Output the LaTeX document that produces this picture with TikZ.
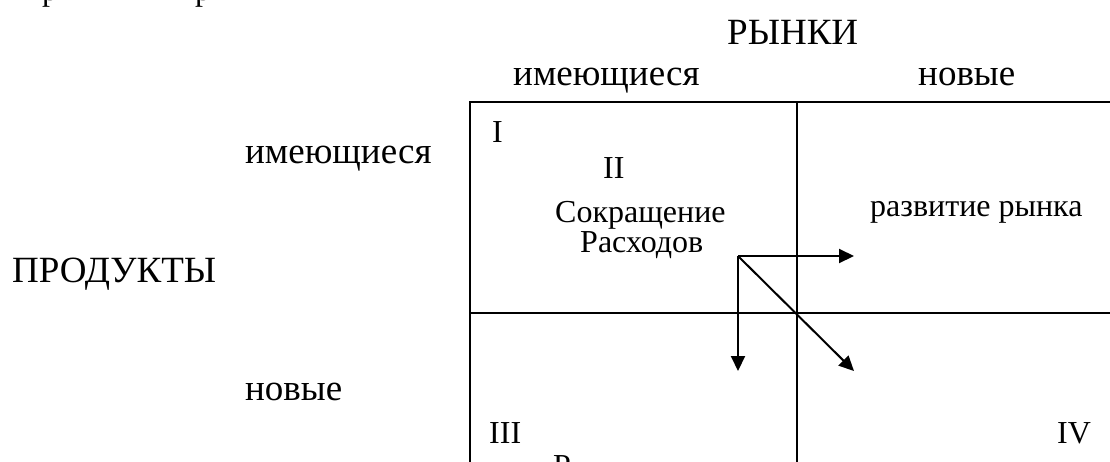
\documentclass[tikz,border=0pt]{standalone}
\usepackage{fontspec}
\setmainfont{Liberation Serif}
\usetikzlibrary{arrows.meta}

\tikzset{
  big/.style={anchor=base west, inner sep=0pt, font=\fontsize{37}{44}\selectfont},
  small/.style={anchor=base west, inner sep=0pt, font=\fontsize{32}{38}\selectfont},
  grid/.style={line width=1.6pt},
  move/.style={line width=2pt, -{Triangle[length=15pt, width=14pt]}}
}

\begin{document}
\begin{tikzpicture}[x=1pt, y=-1pt]
  \useasboundingbox (0,0) rectangle (1110,461);
  \clip (0,0) rectangle (1110,461);

  % descenders of the preceding line of text
  \node[small] (prev1) at (42,0) {р};
  \node[small] (prev2) at (195,0) {р};

  % axis headings
  \node[big] (markets) at (727,44) {РЫНКИ};
  \node[big] (mexist) at (513,85) {имеющиеся};
  \node[big] (mnew) at (918,85) {новые};
  \node[big] (products) at (12,282) {ПРОДУКТЫ};
  \node[big] (pexist) at (245,163) {имеющиеся};
  \node[big] (pnew) at (245,400) {новые};

  % the 2x2 matrix
  \draw[grid] (470,520) -- (470,102) -- (1124,102);
  \draw[grid] (797,102) -- (797,520);
  \draw[grid] (470,313) -- (1124,313);

  % quadrant labels
  \node[small] (q1) at (492,142) {I};
  \node[small] (q2) at (603,178) {II};
  \node[small] (cut1) at (555,222) {Сокращение};
  \node[small] (cut2) at (580,252) {Расходов};
  \node[small] (dev) at (870,216) {развитие рынка};
  \node[small] (q3) at (489,443) {III};
  \node[small] (q4) at (1057,443) {IV};
  \node[small] (q3text) at (553,476) {Р};

  % growth directions
  \coordinate (o) at (738,256);
  \coordinate (right) at (854,256);
  \coordinate (down) at (738,371);
  \coordinate (diag) at (854,371);
  \draw[move] (o) -- (right);
  \draw[move] (o) -- (down);
  \draw[move] (o) -- (diag);
\end{tikzpicture}
\end{document}
